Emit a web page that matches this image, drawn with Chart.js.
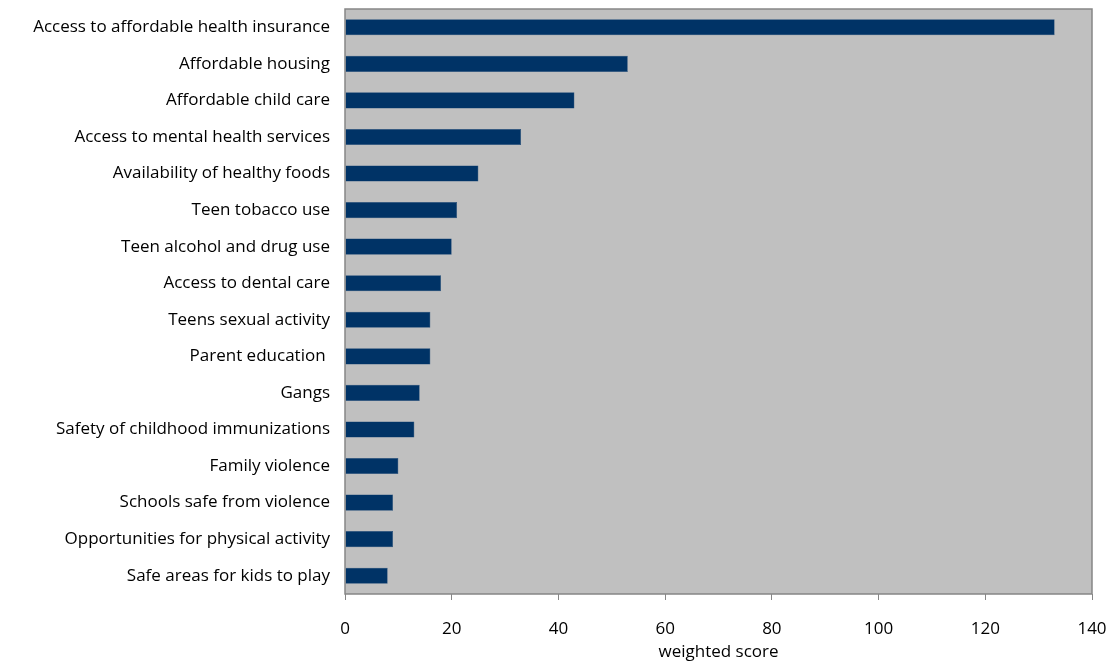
<!DOCTYPE html>
<html>
<head>
<meta charset="utf-8">
<script src="https://cdn.jsdelivr.net/npm/chart.js@4"></script>
<style>
  html, body { margin: 0; padding: 0; background: #fff; }
  #wrap { width: 1114px; height: 662px; }
</style>
</head>
<body>
<div id="wrap"><canvas id="chart1"></canvas></div>
<script>
const categories = [
  "Access to affordable health insurance",
  "Affordable housing",
  "Affordable child care",
  "Access to mental health services",
  "Availability of healthy foods",
  "Teen tobacco use",
  "Teen alcohol and drug use",
  "Access to dental care",
  "Teens sexual activity",
  "Parent education ",
  "Gangs",
  "Safety of childhood immunizations",
  "Family violence",
  "Schools safe from violence",
  "Opportunities for physical activity",
  "Safe areas for kids to play",
];
const scores = [133, 53, 43, 33, 25, 21, 20, 18, 16, 16, 14, 13, 10, 9, 9, 8];
const xTicks = [0, 20, 40, 60, 80, 100, 120, 140];

// grey plot area with a border, like the spreadsheet chart
const plotBox = {
  id: "plotBox",
  beforeDatasetsDraw(chart) {
    const { ctx, chartArea: a } = chart;
    ctx.save();
    ctx.fillStyle = "#C0C0C0";
    ctx.fillRect(a.left, a.top, a.right - a.left, a.bottom - a.top);
    ctx.restore();
  },
  afterDatasetsDraw(chart) {
    const { ctx, chartArea: a } = chart;
    ctx.save();
    ctx.strokeStyle = "#868686";
    ctx.lineWidth = 1.5;
    ctx.strokeRect(a.left, a.top, a.right - a.left, a.bottom - a.top);
    ctx.restore();
  },
};

Chart.defaults.font.family = "Open Sans";
Chart.defaults.font.size = 17;
Chart.defaults.color = "#000";

const config1 = {
  type: "bar",
  data: {
    labels: categories,
    datasets: [
      {
        label: "weighted score",
        data: scores,
        backgroundColor: "#003366",
        borderColor: "#1f4a78",
        borderWidth: 0.5,
        barPercentage: 0.44,
        categoryPercentage: 1,
      },
    ],
  },
  options: {
    indexAxis: "y",
    responsive: true,
    maintainAspectRatio: false,
    animation: false,
    layout: { padding: { top: 9, right: 22, left: 0, bottom: 0 } },
    plugins: { legend: { display: false }, tooltip: { enabled: false } },
    scales: {
      x: {
        min: 0,
        max: 140,
        afterBuildTicks: (axis) => {
          axis.ticks = xTicks.map((v) => ({ value: v }));
        },
        afterFit: (axis) => {
          axis.height = 68;
          axis.paddingLeft = 0;
          axis.paddingRight = 0;
        },
        grid: {
          drawOnChartArea: false,
          drawTicks: true,
          tickLength: 6,
          color: "#868686",
        },
        border: { display: false },
        ticks: { padding: 19, maxRotation: 0 },
        title: {
          display: true,
          text: "weighted score",
          padding: { top: 0, bottom: 0 },
        },
      },
      y: {
        afterFit: (axis) => {
          axis.width = 345;
          axis.paddingTop = 0;
          axis.paddingBottom = 0;
        },
        grid: { display: false },
        border: { display: false },
        ticks: { padding: 7, autoSkip: false },
      },
    },
  },
  plugins: [plotBox],
};
const chart1 = new Chart(document.getElementById("chart1"), config1);
</script>
</body>
</html>
